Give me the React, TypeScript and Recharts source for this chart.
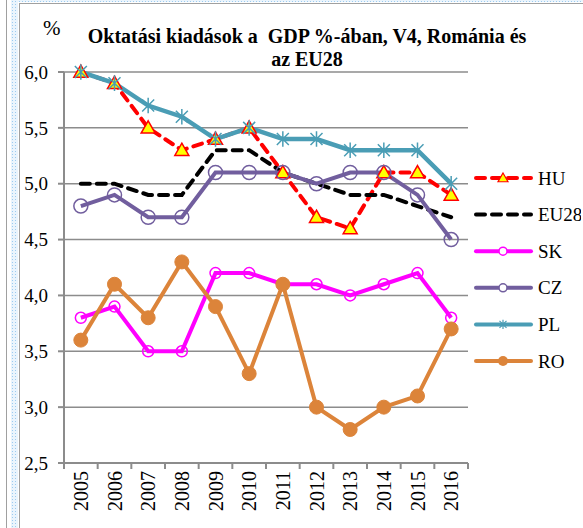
import React from 'react';
import { LineChart, Line, XAxis, YAxis, CartesianGrid } from 'recharts';

const YEARS = ['2005', '2006', '2007', '2008', '2009', '2010', '2011', '2012', '2013', '2014', '2015', '2016'];
const HU = [6.0, 5.9, 5.5, 5.3, 5.4, 5.5, 5.1, 4.7, 4.6, 5.1, 5.1, 4.9];
const EU28 = [5.0, 5.0, 4.9, 4.9, 5.3, 5.3, 5.1, 5.0, 4.9, 4.9, 4.8, 4.7];
const SK = [3.8, 3.9, 3.5, 3.5, 4.2, 4.2, 4.1, 4.1, 4.0, 4.1, 4.2, 3.8];
const CZ = [4.8, 4.9, 4.7, 4.7, 5.1, 5.1, 5.1, 5.0, 5.1, 5.1, 4.9, 4.5];
const PL = [6.0, 5.9, 5.7, 5.6, 5.4, 5.5, 5.4, 5.4, 5.3, 5.3, 5.3, 5.0];
const RO = [3.6, 4.1, 3.8, 4.3, 3.9, 3.3, 4.1, 3.0, 2.8, 3.0, 3.1, 3.7];
const Y_TICKS = [2.5, 3.0, 3.5, 4.0, 4.5, 5.0, 5.5, 6.0];

const C_HU = '#FF0000';
const C_EU = '#000000';
const C_SK = '#FF00FF';
const C_CZ = '#715E9E';
const C_PL = '#4A9DB5';
const C_RO = '#DC843A';
const GRID = '#8C8C8C';
const FONT = 'Liberation Serif, DejaVu Serif, serif';

const data = YEARS.map((year, i) => ({
  i, year, HU: HU[i], EU28: EU28[i], SK: SK[i], CZ: CZ[i], PL: PL[i], RO: RO[i],
}));

// ticks at band edges (lines) and centres (labels), Excel style
const X_TICKS: number[] = [];
for (let k = -0.5; k <= YEARS.length - 0.5; k += 0.5) X_TICKS.push(k);

const XTick = (props: any) => {
  const { x, y, payload } = props;
  const v = payload.value;
  if (Number.isInteger(v)) {
    return (
      <text
        x={x} y={y + 8} transform={`rotate(-90, ${x}, ${y + 8})`}
        textAnchor="end" dominantBaseline="central"
        style={{ fontFamily: FONT, fontSize: 20 }} fill="#000"
      >
        {YEARS[v]}
      </text>
    );
  }
  return <line x1={x} x2={x} y1={y} y2={y + 6} stroke={GRID} strokeWidth={2} />;
};

const triangle = (cx: number, cy: number, s: number) =>
  `${cx},${cy - s} ${cx + s},${cy + s * 0.75} ${cx - s},${cy + s * 0.75}`;

const TriDot = (props: any) => {
  const { cx, cy } = props;
  if (cx == null || cy == null) return null;
  return <polygon points={triangle(cx, cy, 7)} fill="#FFFF00" stroke={C_HU} strokeWidth={1.5} />;
};

const starPath = (cx: number, cy: number, s: number) =>
  `M${cx - s},${cy - s}L${cx + s},${cy + s}M${cx - s},${cy + s}L${cx + s},${cy - s}M${cx},${cy - s * 1.3}L${cx},${cy + s * 1.3}`;

const StarDot = (props: any) => {
  const { cx, cy } = props;
  if (cx == null || cy == null) return null;
  return <path d={starPath(cx, cy, 6)} stroke={C_PL} strokeWidth={1.5} fill="none" />;
};

const LEGEND = [
  { name: 'HU', color: C_HU, dash: '9 7', marker: 'tri' },
  { name: 'EU28', color: C_EU, dash: '9 7', marker: 'none' },
  { name: 'SK', color: C_SK, dash: '', marker: 'open' },
  { name: 'CZ', color: C_CZ, dash: '', marker: 'open' },
  { name: 'PL', color: C_PL, dash: '', marker: 'star' },
  { name: 'RO', color: C_RO, dash: '', marker: 'fill' },
];

const ChartLegend = () => (
  <svg width={113} height={220} style={{ position: 'absolute', left: 468, top: 160 }}>
    {LEGEND.map((it, k) => {
      const y = 18 + k * 36.6;
      const mx = 35;
      return (
        <g key={it.name}>
          <line x1={8} x2={63} y1={y} y2={y} stroke={it.color} strokeWidth={4}
            strokeDasharray={it.dash || undefined} strokeLinecap="round" />
          {it.marker === 'tri' && <polygon points={triangle(mx, y, 5)} fill="#FFFF00" stroke={C_HU} strokeWidth={1.2} />}
          {it.marker === 'open' && <circle cx={mx} cy={y} r={4} fill="#fff" stroke={it.color} strokeWidth={1.5} />}
          {it.marker === 'fill' && <circle cx={mx} cy={y} r={5} fill={it.color} />}
          {it.marker === 'star' && <path d={starPath(mx, y, 3.5)} stroke={it.color} strokeWidth={1.2} />}
          <text x={70} y={y} dominantBaseline="central" style={{ fontFamily: FONT, fontSize: 19 }} fill="#000">{it.name}</text>
        </g>
      );
    })}
  </svg>
);

const dotsPattern = {
  backgroundColor: '#EAF4FC',
  backgroundImage: 'radial-gradient(#9CCBF0 0.8px, transparent 1px)',
  backgroundSize: '3px 3px',
};

export default function App() {
  return (
    <div style={{ position: 'absolute', left: 0, top: 0, width: 583, height: 528, background: '#fff', overflow: 'hidden', fontFamily: FONT }}>
      <div style={{ position: 'absolute', left: 6, top: 0, width: 1, height: 528, background: '#A0A0A0' }} />
      <div style={{ position: 'absolute', left: 11, top: 0, width: 7, height: 528, ...dotsPattern }} />
      <div style={{ position: 'absolute', left: 18, top: 0, width: 565, height: 2, ...dotsPattern }} />
      <div style={{ position: 'absolute', left: 19, top: 3, width: 1, height: 525, background: '#A0A0A0' }} />
      <div style={{ position: 'absolute', left: 19, top: 3, width: 564, height: 1, background: '#A0A0A0' }} />

      <div style={{ position: 'absolute', left: 43, top: 16, fontSize: 21 }}>%</div>
      <div style={{
        position: 'absolute', left: 60, top: 25, width: 494, textAlign: 'center',
        fontSize: 20, fontWeight: 'bold', lineHeight: '23px',
      }}>
        Oktatási kiadások a&nbsp; GDP %-ában, V4, Románia és<br />az EU28
      </div>

      <div style={{ position: 'absolute', left: 0, top: 0 }}>
        <LineChart width={583} height={528} data={data} margin={{ top: 72, right: 115, bottom: 15, left: 24 }}>
          <CartesianGrid vertical={false} stroke={GRID} strokeWidth={1.5} />
          <XAxis
            dataKey="i" type="number" domain={[-0.5, YEARS.length - 0.5]} ticks={X_TICKS} interval={0}
            tickLine={false} tickSize={0} tickMargin={0} height={50}
            axisLine={{ stroke: GRID, strokeWidth: 2 }} tick={<XTick />}
          />
          <YAxis
            type="number" domain={[2.5, 6]} ticks={Y_TICKS} interval={0} width={40}
            tickFormatter={(v: number) => v.toFixed(1).replace('.', ',')}
            tickSize={6} tickMargin={10}
            axisLine={{ stroke: GRID, strokeWidth: 2 }} tickLine={{ stroke: GRID, strokeWidth: 2 }}
            tick={{ style: { fontFamily: FONT, fontSize: 19 }, fill: '#000' }}
          />
          <Line dataKey="HU" stroke={C_HU} strokeWidth={4} strokeDasharray="9 7" strokeLinecap="round"
            dot={<TriDot />} activeDot={false} isAnimationActive={false} />
          <Line dataKey="EU28" stroke={C_EU} strokeWidth={4} strokeDasharray="9 7" strokeLinecap="round"
            dot={false} activeDot={false} isAnimationActive={false} />
          <Line dataKey="SK" stroke={C_SK} strokeWidth={4}
            dot={{ r: 5.5, fill: 'none', stroke: C_SK, strokeWidth: 1.5 }} activeDot={false} isAnimationActive={false} />
          <Line dataKey="CZ" stroke={C_CZ} strokeWidth={4}
            dot={{ r: 7, fill: 'none', stroke: C_CZ, strokeWidth: 1.5 }} activeDot={false} isAnimationActive={false} />
          <Line dataKey="PL" stroke={C_PL} strokeWidth={4.5}
            dot={<StarDot />} activeDot={false} isAnimationActive={false} />
          <Line dataKey="RO" stroke={C_RO} strokeWidth={4}
            dot={{ r: 7, fill: C_RO, stroke: C_RO, strokeWidth: 1 }} activeDot={false} isAnimationActive={false} />
        </LineChart>
      </div>
      <ChartLegend />
    </div>
  );
}
